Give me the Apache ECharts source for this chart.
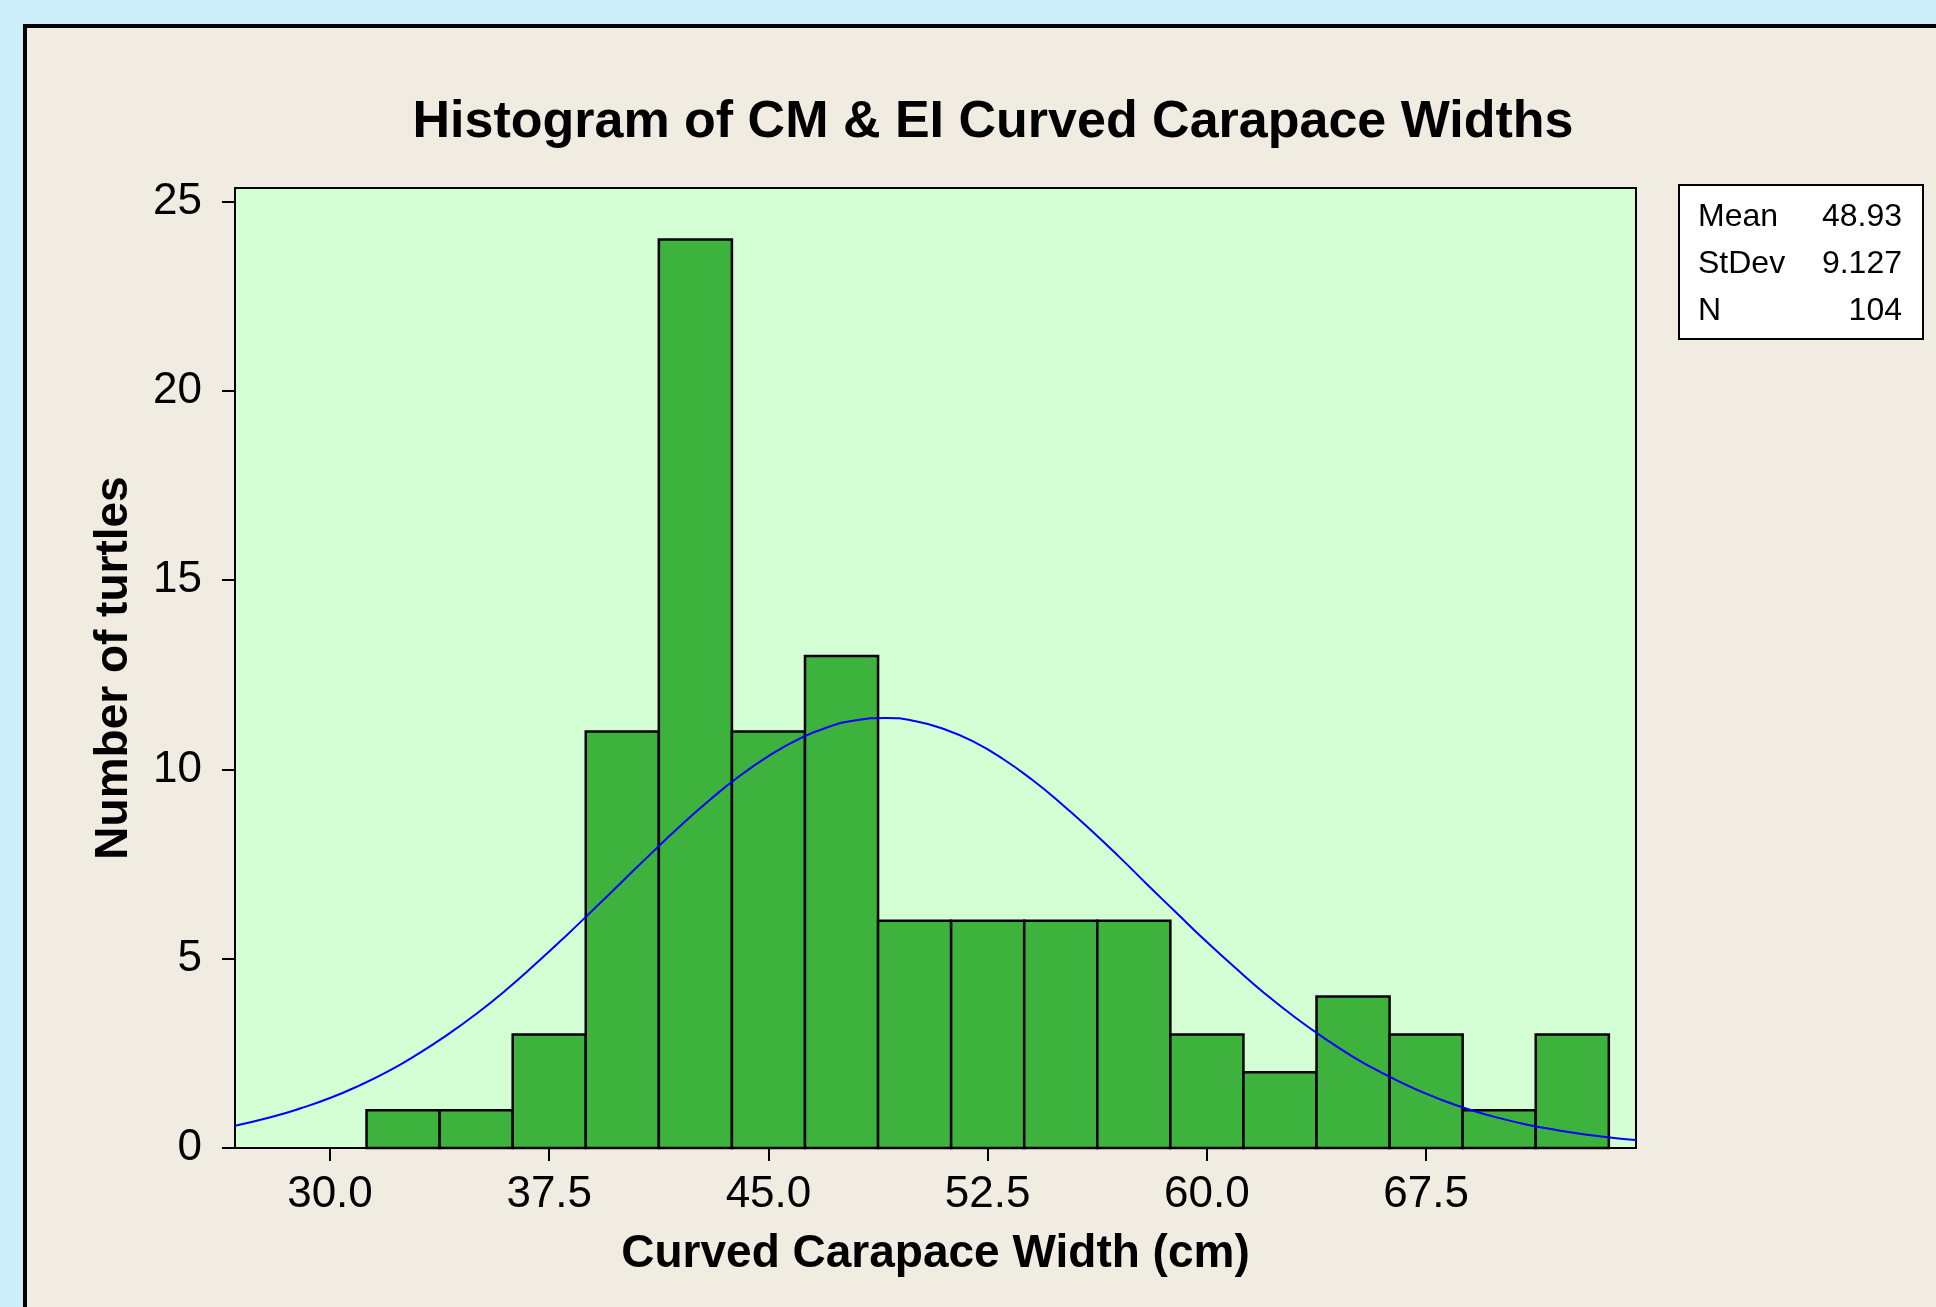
<!DOCTYPE html>
<html>
<head>
<meta charset="utf-8">
<script src="https://cdn.jsdelivr.net/npm/echarts@6/dist/echarts.min.js"></script>
<style>
  html, body { margin: 0; padding: 0; background: #cdeefa; }
  #chart { width: 1936px; height: 1307px; }
</style>
</head>
<body>
<div id="chart"></div>
<script>
// histogram bins (cm) and counts
const binMids = [32.5, 35, 37.5, 40, 42.5, 45, 47.5, 50, 52.5, 55, 57.5, 60, 62.5, 65, 67.5, 70, 72.5];
const counts = [1, 1, 3, 11, 24, 11, 13, 6, 6, 6, 6, 3, 2, 4, 3, 1, 3];
const binWidth = 2.5;

// fitted curve
const curveX = [26.75, 28, 29, 30, 31, 32, 33, 34, 35, 36, 37, 38, 39, 40, 41, 42, 43, 44, 45, 46, 47, 48, 49,
  50, 51, 52, 53, 54, 55, 56, 57, 58, 59, 60, 61, 62, 63, 64, 65, 66, 67, 68, 69, 70, 71, 72, 73, 74, 74.68];
const curveY = [0.59, 0.82, 1.05, 1.32, 1.65, 2.03, 2.48, 2.98, 3.54, 4.16, 4.84, 5.55, 6.29, 7.04, 7.79, 8.52, 9.2, 9.82,
  10.35, 10.79, 11.11, 11.3, 11.36, 11.28, 11.07, 10.74, 10.29, 9.74, 9.11, 8.42, 7.69, 6.93, 6.18, 5.44, 4.74, 4.07,
  3.46, 2.91, 2.41, 1.98, 1.6, 1.28, 1.01, 0.79, 0.61, 0.47, 0.35, 0.26, 0.21];

const xTicks = [30, 37.5, 45, 52.5, 60, 67.5];
const yTicks = [0, 5, 10, 15, 20, 25];

const statNames = ['Mean', 'StDev', 'N'];
const statValues = ['48.93', '9.127', '104'];

const chart = echarts.init(document.getElementById('chart'));
const font = 'Liberation Sans, Arial, sans-serif';

const statTexts = [];
statNames.forEach((name, i) => {
  statTexts.push({
    type: 'text', left: 1698, top: 201 + i * 47,
    style: { text: name, font: '32px ' + font, fill: '#000' }
  });
  statTexts.push({
    type: 'text', right: 1936 - 1902, top: 201 + i * 47,
    style: { text: statValues[i], font: '32px ' + font, fill: '#000', textAlign: 'right' }
  });
});

const option = {
  backgroundColor: '#cdeefa',
  animation: false,
  title: {
    text: 'Histogram of CM & EI Curved Carapace Widths',
    left: 988,
    top: 118,
    textAlign: 'center',
    textVerticalAlign: 'middle',
    textStyle: { fontFamily: font, fontWeight: 'bold', fontSize: 52, color: '#000' }
  },
  graphic: [
    {
      type: 'rect', z: -1, silent: true,
      shape: { x: 25, y: 26, width: 2000, height: 1400 },
      style: { fill: '#f0ece2', stroke: '#000', lineWidth: 4 }
    },
    {
      type: 'rect', silent: true,
      shape: { x: 1679, y: 185, width: 244, height: 154 },
      style: { fill: '#fff', stroke: '#000', lineWidth: 2 }
    }
  ].concat(statTexts),
  grid: {
    left: 235, right: 300, top: 188, bottom: 159,
    show: true, backgroundColor: '#d4fed4', borderColor: '#000', borderWidth: 2
  },
  xAxis: {
    type: 'value',
    min: 26.75,
    max: 74.68,
    name: 'Curved Carapace Width (cm)',
    nameLocation: 'middle',
    nameGap: 83,
    nameTextStyle: { fontFamily: font, fontWeight: 'bold', fontSize: 46, color: '#000' },
    axisLine: { show: true, lineStyle: { color: '#000', width: 2 } },
    axisTick: { show: true, customValues: xTicks, length: 13, lineStyle: { color: '#000', width: 2 } },
    axisLabel: {
      customValues: xTicks, margin: 25,
      fontFamily: font, fontSize: 44, color: '#000',
      formatter: v => v.toFixed(1)
    },
    splitLine: { show: false }
  },
  yAxis: {
    type: 'value',
    min: 0,
    max: 25.36,
    name: 'Number of turtles',
    nameLocation: 'middle',
    nameRotate: 90,
    nameGap: 98,
    nameTextStyle: { fontFamily: font, fontWeight: 'bold', fontSize: 46, color: '#000' },
    axisLine: { show: true, lineStyle: { color: '#000', width: 2 } },
    axisTick: { show: true, customValues: yTicks, length: 13, lineStyle: { color: '#000', width: 2 } },
    axisLabel: { customValues: yTicks, margin: 33, fontFamily: font, fontSize: 44, color: '#000' },
    splitLine: { show: false }
  },
  series: [
    {
      type: 'custom',
      data: binMids.map((m, i) => [m, counts[i]]),
      renderItem: function (params, api) {
        const mid = api.value(0);
        const cnt = api.value(1);
        const p0 = api.coord([mid - binWidth / 2, cnt]);
        const p1 = api.coord([mid + binWidth / 2, 0]);
        return {
          type: 'rect',
          shape: { x: p0[0], y: p0[1], width: p1[0] - p0[0], height: p1[1] - p0[1] },
          style: { fill: '#3db33d', stroke: '#000', lineWidth: 2.5 }
        };
      }
    },
    {
      type: 'line',
      data: curveX.map((x, i) => [x, curveY[i]]),
      showSymbol: false,
      smooth: true,
      z: 5,
      lineStyle: { color: '#0000ff', width: 2 }
    }
  ]
};

chart.setOption(option);
</script>
</body>
</html>
